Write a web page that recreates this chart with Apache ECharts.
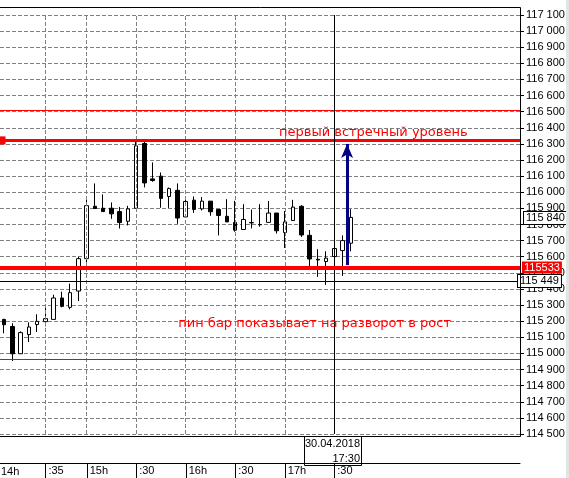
<!DOCTYPE html>
<html>
<head>
<meta charset="utf-8">
<title>RTS M5</title>
<script src="https://cdn.jsdelivr.net/npm/echarts@6/dist/echarts.min.js"></script>
<style>
html, body { margin: 0; padding: 0; background: #fff; }
#chart { width: 569px; height: 478px; }
</style>
</head>
<body>
<div id="chart"></div>
<script>
// 5-minute bars
const times = ['14:10', '14:15', '14:20', '14:25', '14:30', '14:35', '14:40', '14:45', '14:50', '14:55',
  '15:00', '15:05', '15:10', '15:15', '15:20', '15:25', '15:30', '15:35', '15:40', '15:45', '15:50', '15:55',
  '16:00', '16:05', '16:10', '16:15', '16:20', '16:25', '16:30', '16:35', '16:40', '16:45', '16:50', '16:55',
  '17:00', '17:05', '17:10', '17:15', '17:20', '17:25', '17:30', '17:35', '17:40']
const opens = [115211, 115167, 114998, 115117, 115179, 115197, 115211, 115344, 115286, 115387,
  115588, 115913, 115901, 115901, 115880, 115820, 115901, 116303, 116083, 116100, 115974, 116012,
  115847, 115951, 115897, 115945, 115893, 115851, 115813, 115769, 115812, 115800, 115813, 115871,
  115750, 115825, 115913, 115733, 115584, 115570, 115601, 115638, 115684]
const closes = [115178, 114998, 115129, 115164, 115199, 115216, 115344, 115292, 115377, 115588,
  115917, 115899, 115880, 115866, 115812, 115897, 116288, 116058, 116073, 115962, 116023, 115840,
  115943, 115893, 115945, 115879, 115856, 115816, 115765, 115831, 115810, 115798, 115871, 115761,
  115816, 115908, 115735, 115586, 115580, 115591, 115651, 115700, 115844]
const lows = [115125, 114953, 114998, 115071, 115133, 115168, 115211, 115286, 115274, 115325,
  115562, 115899, 115880, 115835, 115775, 115794, 115901, 116030, 116065, 115904, 115903, 115804,
  115847, 115872, 115887, 115854, 115732, 115816, 115755, 115769, 115776, 115786, 115813, 115744,
  115654, 115825, 115723, 115540, 115475, 115425, 115598, 115481, 115634]
const highs = [115215, 115187, 115137, 115193, 115243, 115292, 115364, 115383, 115433, 115600,
  115955, 116055, 115987, 115937, 115909, 115916, 116317, 116317, 116185, 116123, 116030, 116055,
  115962, 115974, 115970, 115945, 115893, 115957, 115947, 115926, 115893, 115926, 115946, 115871,
  115884, 115953, 115920, 115766, 115647, 115634, 115655, 115733, 115895]

// time scale labels (first one sits at the left edge)
const tickIdx = [5, 10, 16, 22, 28, 34, 40]
const tickText = [':35', '15h', ':30', '16h', ':30', '17h', ':30']
const firstLabel = '14h'
const emptySlots = 20 // free space right of the last bar

// levels drawn on the chart
const upperLevel = 116508
const firstLevel = 116322
const pinLevel = 115533
const lowerLevel = 114963
const bidPrice = 115840
const crossPrice = 115449
const crossTime = '17:30'
const crossDate = '30.04.2018'
const arrowFrom = [41.55, 115548]
const arrowTo = [41.55, 116300]
const text1Pos = [33.3, 116371]
const text2Pos = [21.1, 115185]

const fmt = v => String(Math.round(v)).replace(/\B(?=(\d{3})+(?!\d))/g, ' ')
const axisFont = 'Liberation Sans'
const categories = times.concat(new Array(emptySlots).fill(''))
const candles = times.map((t, i) => [opens[i], closes[i], lows[i], highs[i]])
const gridLine = { color: '#808080', width: 1, type: [4, 2] }

let chart = echarts.init(document.getElementById('chart'))
chart.setOption({
  animation: false,
  grid: { left: 0, right: 49, top: 15, bottom: 44 },
  xAxis: [
    {
      type: 'category',
      data: categories,
      boundaryGap: true,
      offset: 29,
      axisLine: { show: true, onZero: false, lineStyle: { color: '#000', width: 1 } },
      axisTick: { show: false },
      axisLabel: {
        interval: i => tickIdx.indexOf(i) >= 0,
        formatter: (v, i) => (tickIdx.indexOf(i) >= 0 ? tickText[tickIdx.indexOf(i)] : ''),
        align: 'left',
        margin: 2,
        padding: [0, 0, 0, 3],
        color: '#000',
        fontFamily: axisFont,
        fontSize: 11
      },
      splitLine: { show: false }
    },
    { type: 'value', min: -0.5, max: times.length + emptySlots - 0.5, show: false, axisLine: { onZero: false } }
  ],
  yAxis: {
    type: 'value',
    position: 'right',
    min: 114500,
    max: 117100,
    interval: 100,
    axisLine: { show: true, onZero: false, lineStyle: { color: '#000' } },
    axisTick: { show: true, length: 4, lineStyle: { color: '#000' } },
    axisLabel: { color: '#000', fontFamily: axisFont, fontSize: 11, margin: 6, formatter: fmt },
    splitLine: { show: true, lineStyle: gridLine }
  },
  series: [
    {
      // vertical time grid
      type: 'line',
      data: [],
      z: 1,
      silent: true,
      markLine: {
        silent: true,
        symbol: 'none',
        label: { show: false },
        lineStyle: gridLine,
        data: tickIdx.map(i => ({ xAxis: times[i] }))
      }
    },
    {
      type: 'candlestick',
      data: candles,
      barWidth: 4,
      clip: false,
      silent: true,
      itemStyle: { color: '#fff', color0: '#000', borderColor: '#000', borderColor0: '#000', borderWidth: 1 },
      markLine: {
        silent: true,
        symbol: 'none',
        label: { show: false },
        data: [
          { yAxis: upperLevel, lineStyle: { color: '#ff0000', width: 1, type: 'solid' } },
          { yAxis: lowerLevel, lineStyle: { color: '#ff0000', width: 1, type: 'solid' } },
          { yAxis: firstLevel, symbol: ['none', 'arrow'], symbolSize: [8, 11], lineStyle: { color: '#ff0000', width: 3, type: 'solid' } },
          { xAxis: crossTime, lineStyle: { color: '#000', width: 1, type: 'solid' } },
          {
            yAxis: crossPrice,
            lineStyle: { color: '#000', width: 1, type: 'solid' },
            label: {
              show: true, position: 'end', distance: -2, formatter: fmt(crossPrice),
              color: '#000', backgroundColor: '#fff', borderColor: '#000', borderWidth: 1,
              padding: [1, 2, 0, 2], fontFamily: axisFont, fontSize: 11
            }
          },
          {
            yAxis: pinLevel,
            lineStyle: { color: '#ff0000', width: 4, type: 'solid' },
            label: {
              show: true, position: 'end', distance: 2, formatter: String(pinLevel),
              color: '#fff', backgroundColor: '#ff0000', padding: [1, 2, 0, 2],
              fontFamily: axisFont, fontSize: 11
            }
          },
          {
            yAxis: bidPrice,
            lineStyle: { color: 'rgba(0,0,0,0)', width: 1, type: 'solid' },
            label: {
              show: true, position: 'end', distance: 4, formatter: fmt(bidPrice),
              color: '#000', backgroundColor: '#fff', borderColor: '#000', borderWidth: 1,
              padding: [1, 2, 0, 2], fontFamily: axisFont, fontSize: 11
            }
          }
        ]
      }
    },
    {
      type: 'line',
      xAxisIndex: 1,
      data: [],
      silent: true,
      markLine: {
        silent: true,
        symbol: ['none', 'arrow'],
        symbolSize: [9, 14],
        label: { show: false },
        lineStyle: { color: '#000080', width: 3, type: 'solid' },
        data: [[{ coord: arrowFrom }, { coord: arrowTo }]]
      },
      markPoint: {
        silent: true,
        symbolSize: 0,
        label: { show: true, position: 'right', distance: 0, formatter: '{b}', color: '#ff0000', fontFamily: 'DejaVu Sans', fontSize: 13 },
        data: [
          { name: 'первый встречный уровень', coord: text1Pos },
          { name: 'пин бар показывает на разворот в рост', coord: text2Pos }
        ]
      }
    }
  ]
})

// chart frame, time scale ticks and the crosshair date box
const px = t => Math.round(chart.convertToPixel({ xAxisIndex: 0 }, t))
let cx = px(crossTime)
let ticks = tickIdx.map(i => ({
  type: 'line', z: 50,
  shape: { x1: px(times[i]) + 0.5, y1: 463, x2: px(times[i]) + 0.5, y2: 478 },
  style: { stroke: '#000', lineWidth: 1 }
}))
chart.setOption({
  graphic: ticks.concat([
    { type: 'polyline', z: 50, shape: { points: [[0, 7.5], [520.5, 7.5], [520.5, 436.5], [0, 436.5]] }, style: { stroke: '#000', fill: null, lineWidth: 1 } },
    { type: 'rect', z: 50, shape: { x: 566, y: 0, width: 3, height: 478 }, style: { fill: '#e4e4e4' } },
    { type: 'text', z: 50, style: { x: 1, y: 466, text: firstLabel, fill: '#000', font: '11px ' + axisFont } },
    {
      type: 'group', z: 100,
      children: [
        { type: 'rect', shape: { x: cx - 29.5, y: 436.5, width: 57, height: 29 }, style: { fill: '#fff', stroke: '#000', lineWidth: 1 } },
        { type: 'text', style: { x: cx + 26, y: 444, text: crossDate, align: 'right', verticalAlign: 'middle', fill: '#000', font: '11px ' + axisFont } },
        { type: 'text', style: { x: cx + 26, y: 459, text: crossTime, align: 'right', verticalAlign: 'middle', fill: '#000', font: '11px ' + axisFont } }
      ]
    }
  ])
})
</script>
</body>
</html>
